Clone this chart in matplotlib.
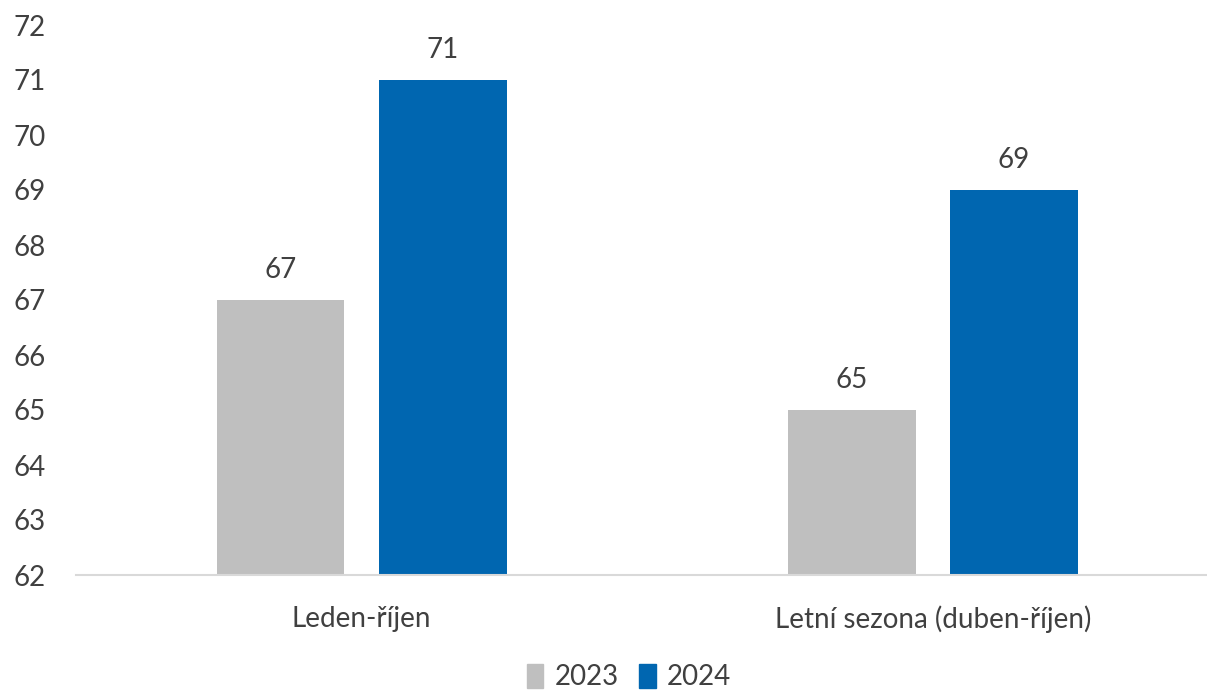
import numpy as np
import matplotlib.pyplot as plt
from matplotlib.patches import Patch

# Data
categories = ['Leden-říjen', 'Letní sezona (duben-říjen)']
years = ['2023', '2024']
values_2023 = [67, 65]
values_2024 = [71, 69]
colors = ['#BFBFBF', '#0066B0']
text_color = '#404040'

plt.rcParams['font.family'] = ['Lato', 'DejaVu Sans']

W, H = 1207, 690
fig = plt.figure(figsize=(W / 100, H / 100), dpi=100)
ax = fig.add_axes([76 / W, 1 - 575 / H, (W - 76) / W, 550 / H])

x = np.arange(len(categories))
width = 0.224
offset = 0.142
bars1 = ax.bar(x - offset, values_2023, width, color=colors[0], label=years[0])
bars2 = ax.bar(x + offset, values_2024, width, color=colors[1], label=years[1])

for bars in (bars1, bars2):
    for b in bars:
        ax.annotate(f'{b.get_height():.0f}', (b.get_x() + b.get_width() / 2, b.get_height()),
                    xytext=(0, 12), textcoords='offset points', ha='center', va='bottom',
                    fontsize=20, color=text_color)

ax.set_ylim(62, 72)
ax.set_xlim(-0.5, 1.48)
ax.set_yticks(range(62, 73))
ax.set_xticks(x)
ax.set_xticklabels(categories)
ax.tick_params(axis='both', length=0, labelsize=20, labelcolor=text_color)
ax.tick_params(axis='y', pad=45)
ax.tick_params(axis='x', pad=22)
for lbl in ax.get_yticklabels():
    lbl.set_horizontalalignment('left')

for s in ['top', 'right', 'left']:
    ax.spines[s].set_visible(False)
ax.spines['bottom'].set_color('#D9D9D9')
ax.spines['bottom'].set_linewidth(1.5)

handles = [Patch(color=c, label=y) for c, y in zip(colors, years)]
fig.legend(handles=handles, loc='center', bbox_to_anchor=(629 / W, 1 - 677 / H), ncol=2,
           frameon=False, fontsize=20, handlelength=0.6, handleheight=1.0,
           handletextpad=0.4, columnspacing=0.75, labelcolor=text_color)

fig.savefig('out.png', dpi=100)
